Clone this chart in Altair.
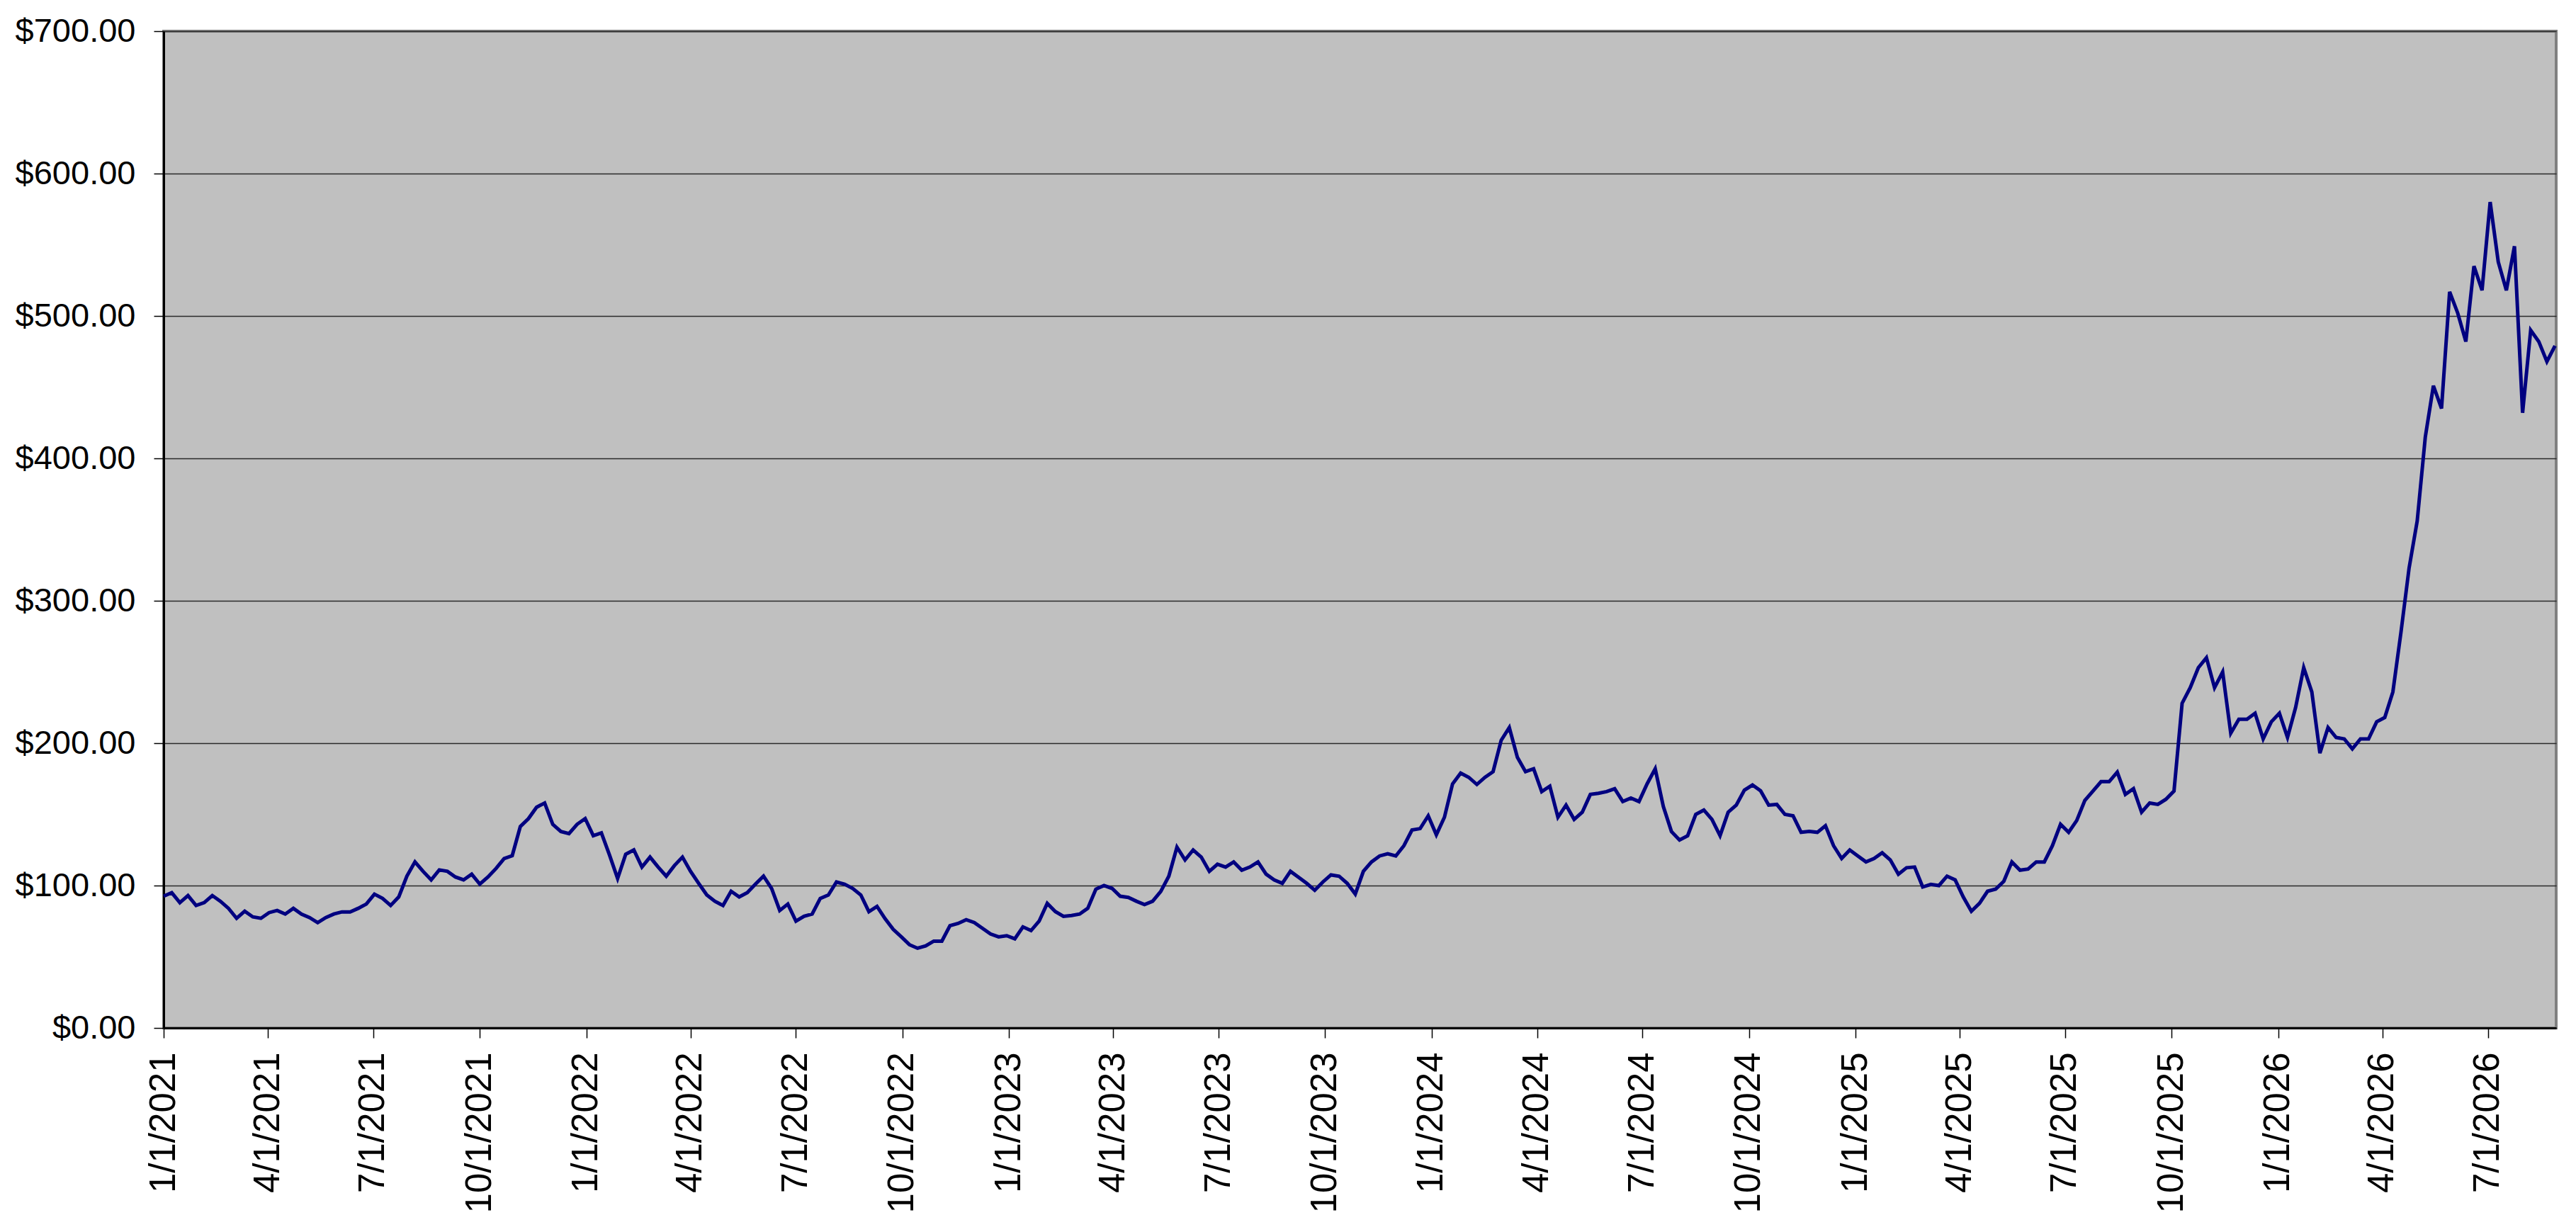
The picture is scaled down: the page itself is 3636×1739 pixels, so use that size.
import altair as alt
import pandas as pd

# Weekly closing prices (first week: 1/1/2021)
start_date = "2021-01-01"
prices = [
    # 2021
    92.5, 95, 88, 93, 86, 88, 93, 89, 84, 77, 82, 78, 77, 81, 82.5, 80, 84, 80, 77.5, 74,
    77.5, 80, 81.5, 81.5, 84, 87, 94, 91, 86, 92, 106.6, 116.6, 110, 104, 111, 110, 106, 104,
    108, 101, 106, 112, 119, 121, 141.5, 147, 155, 158, 143, 138, 136.5,
    # 2022
    143, 147, 135, 137, 121.5, 105, 122, 125, 113, 120, 113, 106.6, 114, 120, 110, 101.6,
    93.4, 89, 86, 96, 92, 95, 101, 106.6, 98, 82.5, 87, 75, 78.4, 80, 91, 93.4, 102.5, 101,
    98, 93.4, 81.7, 85.4, 76.7, 69.3, 64, 58.5, 56, 57.6, 61, 61, 71.8, 73.4, 76, 74,
    # 2023
    70, 66, 64, 64.8, 62.6, 71, 68.4, 75, 87.5, 81.7, 78.4, 79, 80, 84, 97.5, 100, 98, 92.5,
    91.7, 89, 86.7, 89, 95.8, 106.6, 127, 118, 125, 120, 110, 115, 113, 116.6, 110.8, 113,
    116.6, 108, 104, 101.6, 110, 105.8, 101.6, 96.7, 102.5, 107.5, 106.6, 101.6, 94, 110,
    116.6, 120.8,
    # 2024
    122.4, 120.8, 128, 139, 140, 149, 135.7, 148, 171.4, 179, 176, 171, 176, 180, 202, 211,
    190, 180, 182, 166, 169.8, 148, 156.5, 146.5, 151.5, 164, 164.8, 166, 168, 159, 161.5,
    159, 171.4, 182, 155.6, 138, 132, 135, 150, 153, 146.5, 135, 151.5, 156.5, 167, 170.6,
    166.5, 156.5, 157, 150,
    # 2025
    149, 137.4, 138, 137.4, 142, 128, 119, 125, 120.8, 116.6, 119, 123, 118, 108, 112.5, 113,
    99, 100.8, 100, 106.6, 104, 92, 82, 87.5, 96, 97.5, 103, 116.6, 110.8, 111.6, 116.6,
    116.6, 128, 143, 137.4, 145.7, 159.8, 166.4, 173, 173, 179.7, 164, 168, 151.5, 158, 157,
    160.6, 166.4, 228,
    # late 2025 - 2026
    239, 253, 260, 239, 250, 207, 216.8, 216.8, 221, 203, 215, 221, 204, 225, 253, 236, 193,
    211, 204, 203, 196, 203, 203, 215, 218, 236, 278, 323, 356, 415, 451, 435, 517, 502, 482,
    535, 518, 580, 538, 518, 549, 432, 490, 482, 468, 479,
]
dates = pd.date_range(start_date, periods=len(prices), freq="7D").strftime("%Y/%m/%d").tolist()

y_ticks = [0, 100, 200, 300, 400, 500, 600, 700]
tick_years = [2021, 2022, 2023, 2024, 2025, 2026]
tick_months = [1, 4, 7, 10]
x_ticks = [
    alt.DateTime(year=y, month=m, date=1)
    for y in tick_years for m in tick_months
    if (y, m) <= (2026, 7)
]

df = pd.DataFrame({"date": dates, "price": prices})

font = "Liberation Sans"

chart = alt.Chart(df).mark_line(color="#000080", strokeWidth=5).encode(
    x=alt.X(
        "date:T",
        title=None,
        scale=alt.Scale(domain=[alt.DateTime(year=2021, month=1, date=1),
                                alt.DateTime(year=2026, month=8, date=29)]),
        axis=alt.Axis(
            values=x_ticks,
            format="%-m/%-d/%Y",
            labelAngle=270,
            labelFontSize=51,
            labelFont=font,
            labelColor="#000000",
            labelPadding=20,
            labelOverlap=False,
            labelFlush=False,
            labelLimit=500,
            tickSize=14,
            tickColor="#000000",
            tickWidth=1.5,
            domainColor="#000000",
            domainWidth=3,
            grid=False,
        ),
    ),
    y=alt.Y(
        "price:Q",
        title=None,
        scale=alt.Scale(domain=[0, 700], nice=False),
        axis=alt.Axis(
            values=y_ticks,
            format="$.2f",
            labelFontSize=47,
            labelFont=font,
            labelColor="#000000",
            labelPadding=26,
            labelLimit=400,
            tickSize=14,
            tickColor="#000000",
            tickWidth=1.5,
            domainColor="#000000",
            domainWidth=3,
            grid=True,
            gridColor="#2a2a2a",
            gridWidth=1.6,
        ),
    ),
).properties(
    width=3377,
    height=1407,
    padding={"left": 223, "top": 36, "right": 12, "bottom": 270},
    autosize=alt.AutoSizeParams(type="none"),
    background="#FFFFFF",
).configure_view(
    fill="#C0C0C0",
    stroke="#808080",
    strokeWidth=4,
)

chart.save("out.html", embed_options={"renderer": "svg", "actions": False})
